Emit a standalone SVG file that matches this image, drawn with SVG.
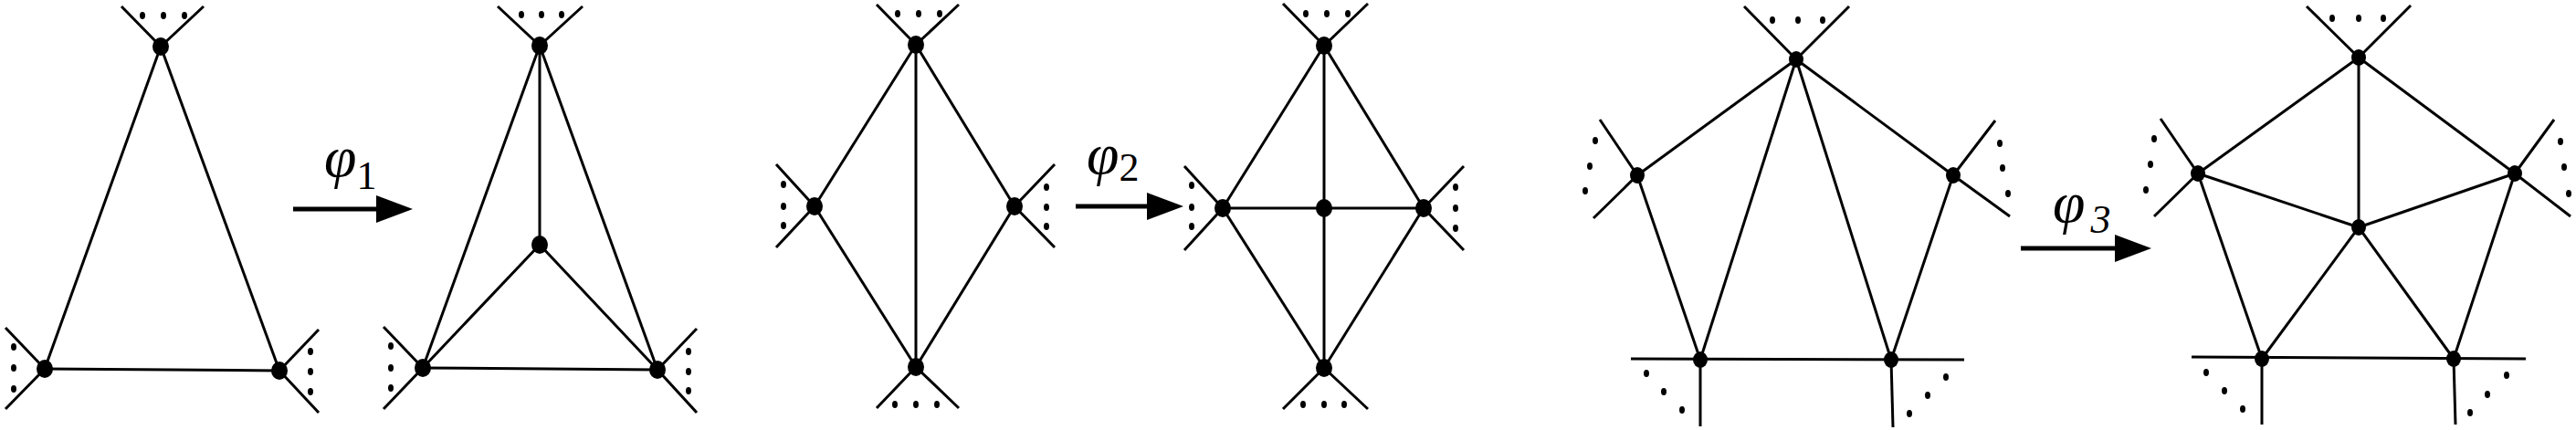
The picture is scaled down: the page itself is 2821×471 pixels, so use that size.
<svg xmlns="http://www.w3.org/2000/svg" width="2821" height="471" viewBox="0 0 2821 471">
<style>
line{stroke:#000;stroke-width:3}
.n{fill:#000}
.d{fill:#000}
.lbl{font-family:"Liberation Serif",serif;font-style:italic;font-size:64px}
.sub{font-family:"Liberation Serif",serif;font-size:44px}
</style>
<defs>
<marker id="ah" markerWidth="8" markerHeight="6" refX="0" refY="3" orient="auto" markerUnits="strokeWidth"><path d="M0,0L8,3L0,6z" fill="#000"/></marker>
</defs>
<rect width="2821" height="471" fill="#fff"/>
<g id="connectors">
<line x1="176" y1="51" x2="49" y2="404"/><line x1="176" y1="51" x2="306" y2="406"/><line x1="49" y1="404" x2="306" y2="406"/>
<line x1="133" y1="7" x2="176" y2="51"/><line x1="223" y1="7" x2="176" y2="51"/>
<line x1="6" y1="359" x2="49" y2="404"/><line x1="6" y1="448" x2="49" y2="404"/>
<line x1="349" y1="361" x2="306" y2="406"/><line x1="349" y1="452" x2="306" y2="406"/>
<line x1="591" y1="50" x2="463" y2="403"/><line x1="591" y1="50" x2="720" y2="405"/><line x1="463" y1="403" x2="720" y2="405"/>
<line x1="591" y1="50" x2="591" y2="268"/><line x1="591" y1="268" x2="463" y2="403"/><line x1="591" y1="268" x2="720" y2="405"/>
<line x1="545" y1="7" x2="591" y2="50"/><line x1="638" y1="7" x2="591" y2="50"/>
<line x1="420" y1="358" x2="463" y2="403"/><line x1="420" y1="448" x2="463" y2="403"/>
<line x1="763" y1="360" x2="720" y2="405"/><line x1="763" y1="452" x2="720" y2="405"/>
<line x1="1003" y1="49" x2="892" y2="226"/><line x1="1003" y1="49" x2="1111" y2="226"/><line x1="892" y1="226" x2="1003" y2="402"/><line x1="1111" y1="226" x2="1003" y2="402"/><line x1="1003" y1="49" x2="1003" y2="402"/>
<line x1="960" y1="5" x2="1003" y2="49"/><line x1="1050" y1="5" x2="1003" y2="49"/>
<line x1="850" y1="180" x2="892" y2="226"/><line x1="850" y1="271" x2="892" y2="226"/>
<line x1="1155" y1="180" x2="1111" y2="226"/><line x1="1155" y1="271" x2="1111" y2="226"/>
<line x1="960" y1="447" x2="1003" y2="402"/><line x1="1050" y1="447" x2="1003" y2="402"/>
<line x1="1450" y1="50" x2="1339" y2="228"/><line x1="1450" y1="50" x2="1559" y2="228"/><line x1="1339" y1="228" x2="1450" y2="403"/><line x1="1559" y1="228" x2="1450" y2="403"/><line x1="1450" y1="50" x2="1450" y2="403"/><line x1="1339" y1="228" x2="1559" y2="228"/>
<line x1="1405" y1="4" x2="1450" y2="50"/><line x1="1498" y1="4" x2="1450" y2="50"/>
<line x1="1297" y1="182" x2="1339" y2="228"/><line x1="1297" y1="274" x2="1339" y2="228"/>
<line x1="1603" y1="182" x2="1559" y2="228"/><line x1="1603" y1="274" x2="1559" y2="228"/>
<line x1="1405" y1="448" x2="1450" y2="403"/><line x1="1498" y1="448" x2="1450" y2="403"/>
<line x1="1967" y1="65" x2="1793" y2="192"/><line x1="1967" y1="65" x2="2139" y2="192"/><line x1="1793" y1="192" x2="1862" y2="394"/><line x1="2139" y1="192" x2="2071" y2="394"/><line x1="1967" y1="65" x2="1862" y2="394"/><line x1="1967" y1="65" x2="2071" y2="394"/>
<line x1="1786" y1="393" x2="2151" y2="394"/>
<line x1="1862" y1="394" x2="1862" y2="467"/><line x1="2071" y1="394" x2="2073" y2="468"/>
<line x1="1910" y1="7" x2="1967" y2="65"/><line x1="2025" y1="7" x2="1967" y2="65"/>
<line x1="1752" y1="131" x2="1793" y2="192"/><line x1="1745" y1="239" x2="1793" y2="192"/>
<line x1="2185" y1="132" x2="2139" y2="192"/><line x1="2201" y1="237" x2="2139" y2="192"/>
<line x1="2583" y1="63" x2="2407" y2="190"/><line x1="2583" y1="63" x2="2754" y2="190"/><line x1="2583" y1="63" x2="2583" y2="249"/><line x1="2407" y1="190" x2="2583" y2="249"/><line x1="2754" y1="190" x2="2583" y2="249"/><line x1="2407" y1="190" x2="2477" y2="393"/><line x1="2754" y1="190" x2="2687" y2="393"/><line x1="2583" y1="249" x2="2477" y2="393"/><line x1="2583" y1="249" x2="2687" y2="393"/>
<line x1="2400" y1="391" x2="2766" y2="393"/>
<line x1="2477" y1="393" x2="2477" y2="465"/><line x1="2687" y1="393" x2="2689" y2="465"/>
<line x1="2526" y1="7" x2="2583" y2="63"/><line x1="2640" y1="6" x2="2583" y2="63"/>
<line x1="2366" y1="130" x2="2407" y2="190"/><line x1="2359" y1="237" x2="2407" y2="190"/>
<line x1="2797" y1="131" x2="2754" y2="190"/><line x1="2815" y1="237" x2="2754" y2="190"/>
<line x1="321" y1="229" x2="412" y2="229" style="stroke-width:5" marker-end="url(#ah)"/>
<line x1="1178" y1="226" x2="1256" y2="226" style="stroke-width:5" marker-end="url(#ah)"/>
<line x1="2213" y1="272" x2="2316" y2="272" style="stroke-width:5" marker-end="url(#ah)"/>
</g>
<g id="dots">
<ellipse class="d" cx="156" cy="17" rx="3" ry="4"/><ellipse class="d" cx="179" cy="17" rx="3" ry="4"/><ellipse class="d" cx="202" cy="17" rx="3" ry="4"/>
<ellipse class="d" cx="15" cy="380" rx="3" ry="4"/><ellipse class="d" cx="15" cy="403" rx="3" ry="4"/><ellipse class="d" cx="15" cy="426" rx="3" ry="4"/>
<ellipse class="d" cx="340" cy="385" rx="3" ry="4"/><ellipse class="d" cx="340" cy="407" rx="3" ry="4"/><ellipse class="d" cx="340" cy="429" rx="3" ry="4"/>
<ellipse class="d" cx="571" cy="16" rx="3" ry="4"/><ellipse class="d" cx="593" cy="16" rx="3" ry="4"/><ellipse class="d" cx="615" cy="16" rx="3" ry="4"/>
<ellipse class="d" cx="428" cy="379" rx="3" ry="4"/><ellipse class="d" cx="428" cy="403" rx="3" ry="4"/><ellipse class="d" cx="428" cy="425" rx="3" ry="4"/>
<ellipse class="d" cx="754" cy="385" rx="3" ry="4"/><ellipse class="d" cx="754" cy="407" rx="3" ry="4"/><ellipse class="d" cx="754" cy="428" rx="3" ry="4"/>
<ellipse class="d" cx="983" cy="15" rx="3" ry="4"/><ellipse class="d" cx="1006" cy="15" rx="3" ry="4"/><ellipse class="d" cx="1029" cy="15" rx="3" ry="4"/>
<ellipse class="d" cx="858" cy="202" rx="3" ry="4"/><ellipse class="d" cx="858" cy="226" rx="3" ry="4"/><ellipse class="d" cx="858" cy="247" rx="3" ry="4"/>
<ellipse class="d" cx="1146" cy="205" rx="3" ry="4"/><ellipse class="d" cx="1146" cy="227" rx="3" ry="4"/><ellipse class="d" cx="1146" cy="248" rx="3" ry="4"/>
<ellipse class="d" cx="980" cy="443" rx="3" ry="4"/><ellipse class="d" cx="1003" cy="443" rx="3" ry="4"/><ellipse class="d" cx="1026" cy="443" rx="3" ry="4"/>
<ellipse class="d" cx="1430" cy="15" rx="3" ry="4"/><ellipse class="d" cx="1453" cy="15" rx="3" ry="4"/><ellipse class="d" cx="1476" cy="15" rx="3" ry="4"/>
<ellipse class="d" cx="1305" cy="203" rx="3" ry="4"/><ellipse class="d" cx="1305" cy="227" rx="3" ry="4"/><ellipse class="d" cx="1305" cy="248" rx="3" ry="4"/>
<ellipse class="d" cx="1594" cy="205" rx="3" ry="4"/><ellipse class="d" cx="1594" cy="228" rx="3" ry="4"/><ellipse class="d" cx="1594" cy="250" rx="3" ry="4"/>
<ellipse class="d" cx="1427" cy="443" rx="3" ry="4"/><ellipse class="d" cx="1450" cy="443" rx="3" ry="4"/><ellipse class="d" cx="1472" cy="443" rx="3" ry="4"/>
<ellipse class="d" cx="1941" cy="22" rx="3" ry="4"/><ellipse class="d" cx="1969" cy="22" rx="3" ry="4"/><ellipse class="d" cx="1996" cy="22" rx="3" ry="4"/>
<ellipse class="d" cx="1747" cy="154" rx="3" ry="4"/><ellipse class="d" cx="1741" cy="182" rx="3" ry="4"/><ellipse class="d" cx="1736" cy="209" rx="3" ry="4"/>
<ellipse class="d" cx="2190" cy="157" rx="3" ry="4"/><ellipse class="d" cx="2193" cy="184" rx="3" ry="4"/><ellipse class="d" cx="2199" cy="212" rx="3" ry="4"/>
<ellipse class="d" cx="1803" cy="409" rx="3" ry="4"/><ellipse class="d" cx="1822" cy="429" rx="3" ry="4"/><ellipse class="d" cx="1842" cy="449" rx="3" ry="4"/>
<ellipse class="d" cx="2131" cy="413" rx="3" ry="4"/><ellipse class="d" cx="2111" cy="433" rx="3" ry="4"/><ellipse class="d" cx="2091" cy="453" rx="3" ry="4"/>
<ellipse class="d" cx="2554" cy="20" rx="3" ry="4"/><ellipse class="d" cx="2583" cy="20" rx="3" ry="4"/><ellipse class="d" cx="2610" cy="20" rx="3" ry="4"/>
<ellipse class="d" cx="2359" cy="152" rx="3" ry="4"/><ellipse class="d" cx="2355" cy="180" rx="3" ry="4"/><ellipse class="d" cx="2350" cy="208" rx="3" ry="4"/>
<ellipse class="d" cx="2804" cy="155" rx="3" ry="4"/><ellipse class="d" cx="2808" cy="183" rx="3" ry="4"/><ellipse class="d" cx="2813" cy="212" rx="3" ry="4"/>
<ellipse class="d" cx="2416" cy="408" rx="3" ry="4"/><ellipse class="d" cx="2436" cy="428" rx="3" ry="4"/><ellipse class="d" cx="2456" cy="448" rx="3" ry="4"/>
<ellipse class="d" cx="2745" cy="411" rx="3" ry="4"/><ellipse class="d" cx="2724" cy="432" rx="3" ry="4"/><ellipse class="d" cx="2705" cy="452" rx="3" ry="4"/>
</g>
<g id="p1-top"><ellipse class="n" cx="176" cy="51" rx="9" ry="10"/></g>
<g id="p1-bl"><ellipse class="n" cx="49" cy="404" rx="9" ry="10"/></g>
<g id="p1-br"><ellipse class="n" cx="306" cy="406" rx="9" ry="10"/></g>
<g id="p2-top"><ellipse class="n" cx="591" cy="50" rx="9" ry="10"/></g>
<g id="p2-center"><ellipse class="n" cx="591" cy="268" rx="9" ry="10"/></g>
<g id="p2-bl"><ellipse class="n" cx="463" cy="403" rx="9" ry="10"/></g>
<g id="p2-br"><ellipse class="n" cx="720" cy="405" rx="9" ry="10"/></g>
<g id="p3-top"><ellipse class="n" cx="1003" cy="49" rx="9" ry="10"/></g>
<g id="p3-left"><ellipse class="n" cx="892" cy="226" rx="9" ry="10"/></g>
<g id="p3-right"><ellipse class="n" cx="1111" cy="226" rx="9" ry="10"/></g>
<g id="p3-bottom"><ellipse class="n" cx="1003" cy="402" rx="9" ry="10"/></g>
<g id="p4-top"><ellipse class="n" cx="1450" cy="50" rx="9" ry="10"/></g>
<g id="p4-left"><ellipse class="n" cx="1339" cy="228" rx="9" ry="10"/></g>
<g id="p4-center"><ellipse class="n" cx="1450" cy="228" rx="9" ry="10"/></g>
<g id="p4-right"><ellipse class="n" cx="1559" cy="228" rx="9" ry="10"/></g>
<g id="p4-bottom"><ellipse class="n" cx="1450" cy="403" rx="9" ry="10"/></g>
<g id="p5-top"><ellipse class="n" cx="1967" cy="65" rx="8" ry="9"/></g>
<g id="p5-left"><ellipse class="n" cx="1793" cy="192" rx="8" ry="9"/></g>
<g id="p5-right"><ellipse class="n" cx="2139" cy="192" rx="8" ry="9"/></g>
<g id="p5-bl"><ellipse class="n" cx="1862" cy="394" rx="8" ry="9"/></g>
<g id="p5-br"><ellipse class="n" cx="2071" cy="394" rx="8" ry="9"/></g>
<g id="p6-top"><ellipse class="n" cx="2583" cy="63" rx="8" ry="9"/></g>
<g id="p6-left"><ellipse class="n" cx="2407" cy="190" rx="8" ry="9"/></g>
<g id="p6-right"><ellipse class="n" cx="2754" cy="190" rx="8" ry="9"/></g>
<g id="p6-center"><ellipse class="n" cx="2583" cy="249" rx="8" ry="9"/></g>
<g id="p6-bl"><ellipse class="n" cx="2477" cy="393" rx="8" ry="9"/></g>
<g id="p6-br"><ellipse class="n" cx="2687" cy="393" rx="8" ry="9"/></g>
<g id="labels">
<text x="355" y="193" class="lbl">φ<tspan class="sub" font-style="normal" dy="14">1</tspan></text>
<text x="1190" y="190" class="lbl">φ<tspan class="sub" font-style="normal" dy="8">2</tspan></text>
<text x="2248" y="243" class="lbl">φ<tspan class="sub" dx="6" dy="12">3</tspan></text>
</g>
</svg>
